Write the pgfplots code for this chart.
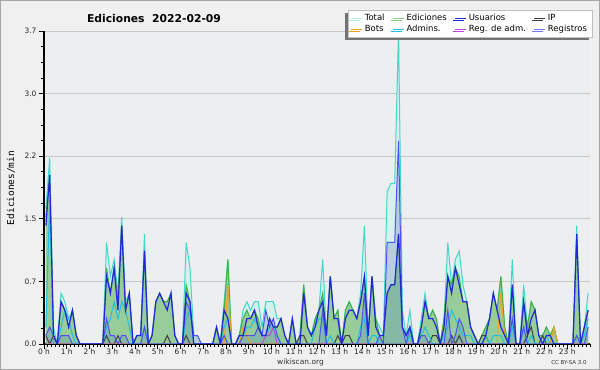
\documentclass[border=0pt]{standalone}
\usepackage{pgfplots}
\pgfplotsset{compat=1.18}
\usepackage{pgfplotstable}
\usepackage{fontspec}
\setmainfont{DejaVu Sans}
\setmonofont{DejaVu Sans Mono}
\usetikzlibrary{shadows}
\definecolor{outerbg}{HTML}{F0F0F0}
\definecolor{plotbg}{HTML}{ECEEF0}
\definecolor{cTotal}{HTML}{40D8C8}
\definecolor{cTotalFill}{HTML}{D6F0EE}
\definecolor{cTotalLeg}{HTML}{B0E8E8}
\definecolor{cEdFill}{HTML}{98CC98}
\definecolor{cEd}{HTML}{40B040}
\definecolor{cEdLeg}{HTML}{80D080}
\definecolor{cUser}{HTML}{2424D8}
\definecolor{cIP}{HTML}{404040}
\definecolor{cBot}{HTML}{F0A020}
\definecolor{cAdm}{HTML}{20C0E0}
\definecolor{cRegAdm}{HTML}{C040E0}
\definecolor{cLog}{HTML}{5050F0}
\definecolor{cLogFill}{HTML}{B6CDE2}
\definecolor{cMixFill}{HTML}{86B8A6}

% N = overlap of Ediciones and Registros areas
\pgfplotstableread{
i T E U R A I B M N
0 1.6 1.5 1.4 0.1 0.2 0.1 0 0 0.1
1 2.2 2.0 2.0 0.2 1.7 0 0 0 0.2
2 0.2 0.1 0.1 0.1 0 0.1 0 0 0.1
3 0 0 0 0 0 0 0 0 0
4 0.6 0.5 0.5 0.1 0.2 0 0 0 0.1
5 0.5 0.4 0.4 0.1 0.4 0 0 0 0.1
6 0.3 0.2 0.2 0.1 0.3 0 0 0 0.1
7 0.4 0.4 0.4 0 0.1 0 0 0 0
8 0.1 0.1 0.1 0 0 0 0 0 0
9 0 0 0 0 0 0 0 0 0
10 0 0 0 0 0 0 0 0 0
11 0 0 0 0 0 0 0 0 0
12 0 0 0 0 0 0 0 0 0
13 0 0 0 0 0 0 0 0 0
14 0 0 0 0 0 0 0 0 0
15 0 0 0 0 0 0 0 0 0
16 1.2 0.9 0.8 0.3 0.2 0.1 0 0 0.3
17 0.8 0.6 0.6 0.1 0.3 0 0 0 0.1
18 1.0 0.9 0.9 0.1 0.5 0 0 0 0.1
19 0.6 0.5 0.4 0 0.3 0.1 0 0 0
20 1.5 1.4 1.4 0.1 0.5 0 0 0 0.1
21 0.5 0.4 0.4 0.1 0.4 0 0 0 0.1
22 0.6 0.6 0.6 0 0.2 0 0 0 0
23 0 0 0 0 0 0 0 0 0
24 0.1 0.1 0.1 0 0 0 0 0 0
25 0.1 0.1 0.1 0 0 0 0 0 0
26 1.3 1.1 1.1 0.2 0.2 0 0 0 0.2
27 0 0 0 0 0 0 0 0 0
28 0.1 0.1 0.1 0 0 0 0 0 0
29 0.5 0.5 0.5 0 0 0 0 0 0
30 0.6 0.6 0.6 0 0 0 0 0 0
31 0.5 0.5 0.5 0 0 0 0 0 0
32 0.5 0.5 0.4 0 0 0.1 0 0 0
33 0.6 0.6 0.6 0 0 0 0 0 0
34 0.1 0.1 0.1 0 0 0 0 0 0
35 0 0 0 0 0 0 0 0 0
36 0 0 0 0 0 0 0 0 0
37 1.2 0.7 0.6 0.5 0.3 0.1 0 0 0.5
38 0.9 0.5 0.5 0.4 0.4 0 0 0 0.4
39 0.1 0 0 0.1 0 0 0 0 0
40 0.1 0 0 0.1 0 0 0 0 0
41 0 0 0 0 0 0 0 0 0
42 0 0 0 0 0 0 0 0 0
43 0 0 0 0 0 0 0 0 0
44 0 0 0 0 0 0 0 0 0
45 0.2 0.2 0.2 0 0 0 0 0 0
46 0 0 0 0 0 0 0 0 0
47 0.5 0.4 0.4 0.1 0.2 0 0 0 0.1
48 1.0 1.0 0.3 0 0.3 0 0.7 0 0
49 0 0 0 0 0 0 0 0 0
50 0 0 0 0 0 0 0 0 0
51 0.1 0.1 0.1 0 0.1 0 0 0 0
52 0.4 0.3 0.1 0.1 0.1 0 0.2 0 0.1
53 0.5 0.4 0.3 0.1 0.2 0 0.1 0 0.1
54 0.4 0.3 0.3 0.1 0.2 0 0 0 0.1
55 0.5 0.4 0.4 0.1 0.3 0 0 0 0.1
56 0.5 0.3 0.2 0.2 0.2 0 0 0 0.2
57 0.2 0.1 0.1 0.1 0.1 0 0 0 0.1
58 0.5 0.1 0.1 0.4 0.1 0 0 0.1 0.1
59 0.5 0.3 0.3 0.2 0.2 0 0 0.1 0.2
60 0.5 0.2 0.2 0.3 0.2 0 0 0.2 0.2
61 0.3 0.2 0.2 0.1 0.1 0 0 0 0.1
62 0.3 0.3 0.3 0 0 0 0 0 0
63 0.1 0.1 0.1 0 0 0 0 0 0
64 0 0 0 0 0 0 0 0 0
65 0.3 0.3 0.3 0 0 0 0 0 0
66 0 0 0 0 0 0 0 0 0
67 0.1 0.1 0 0 0 0.1 0 0 0
68 0.7 0.7 0.6 0 0 0.1 0 0 0
69 0.2 0.2 0.2 0 0 0 0 0 0
70 0.1 0.1 0.1 0 0 0 0 0 0
71 0.3 0.3 0.2 0 0.2 0 0 0 0
72 0.4 0.4 0.4 0 0.3 0 0 0 0
73 1.0 0.6 0.5 0.4 0.3 0 0 0 0.4
74 0.1 0.1 0.1 0 0 0 0 0 0
75 0.8 0.8 0.8 0 0.1 0 0 0 0
76 0.3 0.3 0.3 0 0 0 0 0 0
77 0.4 0.4 0.3 0 0 0.1 0 0 0
78 0 0 0 0 0 0 0 0 0
79 0.4 0.4 0.3 0 0 0.1 0 0 0
80 0.5 0.5 0.4 0 0 0.1 0 0 0
81 0.4 0.4 0.4 0 0 0 0 0 0
82 0.3 0.3 0.3 0 0 0 0 0 0
83 0.6 0.5 0.5 0.1 0.2 0 0 0 0.1
84 1.4 0.8 0.8 0.6 0.3 0 0 0 0.6
85 0.1 0.1 0.1 0 0 0 0 0 0
86 0.8 0.8 0.8 0 0.1 0 0 0 0
87 0.3 0.3 0.2 0 0.1 0 0 0 0
88 0.2 0.1 0.1 0.1 0 0 0 0 0.1
89 0.1 0.1 0.1 0 0 0 0 0 0
90 1.8 0.6 0.6 1.2 0 0 0 0 0.6
91 1.9 0.7 0.7 1.2 0 0 0 0 0.7
92 1.9 0.7 0.7 1.2 0 0 0 0 0.7
93 3.7 1.3 1.3 2.4 0 0 0 0 1.3
94 0.4 0.2 0.2 0.2 0 0 0 0 0.2
95 0.1 0.1 0.1 0 0 0 0 0 0
96 0.4 0.2 0.2 0.2 0.1 0 0 0 0.2
97 0 0 0 0 0 0 0 0 0
98 0 0 0 0 0 0 0 0 0
99 0.3 0.2 0.2 0.1 0.1 0 0 0 0.1
100 0.6 0.5 0.5 0.1 0.2 0 0 0 0.1
101 0.3 0.3 0.3 0 0.1 0 0 0 0
102 0.4 0.4 0.3 0 0 0.1 0 0 0
103 0.3 0.3 0.2 0 0 0.1 0 0 0
104 0 0 0 0 0 0 0 0 0
105 0.3 0.3 0.2 0 0.1 0 0 0 0
106 1.2 0.8 0.8 0.4 0.2 0 0 0 0.4
107 0.7 0.7 0.6 0 0.4 0.1 0 0 0
108 1.0 0.9 0.9 0.1 0.3 0 0 0 0.1
109 1.1 0.8 0.7 0.3 0.2 0.1 0 0 0.3
110 0.7 0.5 0.5 0.2 0.1 0 0 0 0.2
111 0.5 0.5 0.5 0 0.1 0 0 0 0
112 0.2 0.2 0.2 0 0.1 0 0 0 0
113 0.1 0.1 0.1 0 0 0 0 0 0
114 0 0 0 0 0 0 0 0 0
115 0.1 0.1 0 0 0 0.1 0 0 0
116 0.2 0.2 0.1 0 0.1 0.1 0 0 0
117 0.3 0.3 0.3 0 0 0 0 0 0
118 0.6 0.6 0.6 0 0.1 0 0 0 0
119 0.4 0.4 0.4 0 0.1 0 0 0 0
120 0.8 0.8 0.2 0 0.1 0 0.6 0 0
121 0.2 0.2 0.1 0 0 0 0.1 0 0
122 0 0 0 0 0 0 0 0 0
123 1.0 0.7 0.7 0.3 0.2 0 0 0 0.3
124 0 0 0 0 0 0 0 0 0
125 0 0 0 0 0 0 0 0 0
126 0.7 0.5 0.5 0.2 0.2 0 0 0 0.2
127 0.2 0.2 0.1 0 0 0.1 0 0 0
128 0.5 0.5 0.3 0 0.1 0.2 0 0 0
129 0.4 0.4 0.4 0 0 0 0 0 0
130 0.1 0.1 0.1 0 0 0 0 0 0
131 0.1 0.1 0 0 0 0.1 0 0 0
132 0.2 0.2 0.1 0 0.1 0 0 0 0
133 0.1 0.1 0.1 0 0 0 0 0 0
134 0.2 0.2 0 0 0 0 0.2 0 0
135 0 0 0 0 0 0 0 0 0
136 0 0 0 0 0 0 0 0 0
137 0 0 0 0 0 0 0 0 0
138 0 0 0 0 0 0 0 0 0
139 0 0 0 0 0 0 0 0 0
140 1.4 1.3 1.3 0.1 0.1 0 0 0 0.1
141 0 0 0 0 0 0 0 0 0
142 0.2 0.2 0.2 0 0.1 0 0 0 0
143 0.6 0.4 0.4 0.2 0.3 0 0 0 0.2
}\data

\begin{document}
\begin{tikzpicture}
\fill[outerbg] (-44bp,-26bp) rectangle (556bp,344bp);
\draw[gray!70, line width=1bp] (-43.5bp,-25.5bp) rectangle (555.5bp,343.5bp);
\path[use as bounding box] (-44bp,-26bp) rectangle (556bp,344bp);
\begin{axis}[
  at={(0,0)}, anchor=south west,
  scale only axis, width=546bp, height=313bp,
  xmin=-0.5, xmax=143.5, ymin=0, ymax=3.7,
  axis background/.style={fill=plotbg},
  axis x line*=bottom, axis y line*=left,
  axis line style={black, line width=1.2bp},
  tick align=outside,
  major tick length=5bp, minor tick length=3bp,
  tick style={black, line width=0.8bp},
  xtick={-0.5,5.5,...,137.5},
  xticklabels={0 h,1 h,2 h,3 h,4 h,5 h,6 h,7 h,8 h,9 h,10 h,11 h,12 h,13 h,14 h,15 h,16 h,17 h,18 h,19 h,20 h,21 h,22 h,23 h},
  minor xtick={0.5,1.5,...,143.5},
  ytick={0,0.74,1.48,2.22,2.96,3.7},
  yticklabels={0.0,0.7,1.5,2.2,3.0,3.7},
  minor y tick num=3,
  ymajorgrids,
  major grid style={color=black!22, line width=1bp},
  tick label style={font=\fontsize{7.5}{8}\selectfont, text=black!85},
  xticklabel style={yshift=3.5bp},
  yticklabel style={xshift=1bp},
  legend columns=4,
  legend cell align=left,
  legend image code/.code={\draw[#1] (0bp,0bp) -- (11bp,0bp);},
  legend style={at={(1.004,1.067)}, anchor=north east, draw=black!25, fill=white,
    drop shadow={shadow xshift=-2.5bp, shadow yshift=-2.5bp, fill=black!55, opacity=1},
    font=\fontsize{8.5}{9}\selectfont, inner xsep=3bp, inner ysep=2bp, row sep=-1bp,
    /tikz/every even column/.append style={column sep=6bp}},
]
\addlegendimage{cTotalLeg, line width=1bp}
\addlegendentry{Total}
\addlegendimage{cEdLeg, line width=1bp}
\addlegendentry{Ediciones}
\addlegendimage{cUser, line width=1bp}
\addlegendentry{Usuarios}
\addlegendimage{cIP, line width=1bp}
\addlegendentry{IP}
\addlegendimage{cBot, line width=1bp}
\addlegendentry{Bots}
\addlegendimage{cAdm, line width=1bp}
\addlegendentry{Admins.}
\addlegendimage{cRegAdm, line width=1bp}
\addlegendentry{Reg. de adm.}
\addlegendimage{cLog!80, line width=1bp}
\addlegendentry{Registros}

\addplot[draw=none, fill=cTotalFill, forget plot] table[x=i,y=T]{\data} \closedcycle;
\addplot[draw=none, fill=cEdFill, forget plot] table[x=i,y=E]{\data} \closedcycle;
\addplot[draw=none, fill=cLogFill, forget plot] table[x=i,y=R]{\data} \closedcycle;
\addplot[draw=none, fill=cMixFill, forget plot] table[x=i,y=N]{\data} \closedcycle;
\addplot[cTotal, line width=1bp, forget plot] table[x=i,y=T]{\data};
\addplot[cEd, line width=1bp, forget plot] table[x=i,y=E]{\data};
\addplot[cIP, line width=1bp, forget plot] table[x=i,y=I]{\data};
\addplot[cBot, line width=1bp, forget plot] table[x=i,y=B]{\data};
\addplot[cRegAdm, line width=1bp, forget plot] table[x=i,y=M]{\data};
\addplot[cAdm, line width=1bp, forget plot] table[x=i,y=A]{\data};
\addplot[cLog, line width=1bp, forget plot] table[x=i,y=R]{\data};
\addplot[cUser, line width=1.2bp, forget plot] table[x=i,y=U]{\data};
\end{axis}
\node[font=\bfseries\fontsize{10.8}{12}\selectfont] at (110bp,326bp) {Ediciones\ \ 2022-02-09};
\node[rotate=90, font=\ttfamily\fontsize{9.5}{10}\selectfont] at (-33bp,156bp) {Ediciones/min};
\node[font=\fontsize{7.5}{8}\selectfont, text=black!80] at (256.5bp,-18.5bp) {wikiscan.org};
\node[font=\fontsize{5.5}{6}\selectfont, text=black!80] at (525bp,-18.5bp) {CC BY-SA 3.0};
\end{tikzpicture}
\end{document}
